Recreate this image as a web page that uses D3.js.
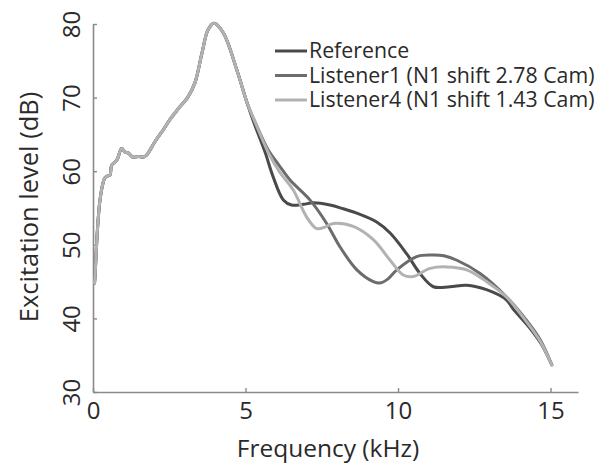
<!DOCTYPE html>
<html>
<head>
<meta charset="utf-8">
<script src="https://cdn.jsdelivr.net/npm/d3@7"></script>
<style>
  body { margin: 0; background: #fff; }
  text { font-family: "Open Sans", sans-serif; }
</style>
</head>
<body>
<svg id="chart" width="609" height="470"></svg>
<script>
// values: [frequency kHz, excitation dB]
var sharedLow = [[0.05,44.8],[0.07,46],[0.12,50.2],[0.17,53.5],[0.23,56.1],[0.33,58.4],[0.39,59.1],
  [0.5,59.4],[0.56,59.5],[0.61,60.8],[0.78,61.5],[0.94,63.1],[1.05,62.6],[1.15,62.5],[1.31,61.9],
  [1.5,62.0],[1.64,61.9],[1.76,62.2],[2.03,64.0],[2.3,65.6],[2.52,67],[2.8,68.5],[3.1,70],
  [3.34,72],[3.57,76],[3.77,79.2],[3.97,80.1],[4.27,78.8],[4.72,73.7],[5.05,69.3]]

var reference = [[5.3,66.3],[5.64,62.6],[5.9,59.3],[6.24,56.1],[6.51,55.4],[6.9,55.5],[7.22,55.7],
  [7.77,55.4],[8.2,54.9],[8.65,54.3],[9.3,53.1],[9.74,51.6],[10.28,48.8],[10.72,46.1],[11.16,44.3],
  [11.7,44.3],[12.25,44.5],[12.9,43.9],[13.56,42.5],[13.77,41.3],[14.3,38.8],[14.7,36.5],[15.04,33.7]]

var listener1 = [[5.3,66.8],[5.74,62.9],[6.1,60.8],[6.46,58.8],[7.11,56.1],[7.66,52.9],[8.1,49.7],
  [8.65,46.6],[9.19,45.0],[9.41,44.8],[9.65,45.3],[9.96,46.6],[10.61,48.4],[11.16,48.6],[11.5,48.5],
  [11.93,47.9],[12.69,46.1],[13.56,42.9],[14.2,39.8],[14.66,37.1],[15.04,33.7]]

var listener4 = [[5.3,66.8],[5.74,62.6],[6.1,60.0],[6.57,57.4],[7.0,53.8],[7.33,52.2],[7.6,52.4],
  [7.88,52.9],[8.53,52.5],[9.19,50.7],[9.74,47.9],[10.17,45.9],[10.5,45.7],[11.05,46.8],[11.6,47.0],
  [12.25,46.6],[12.9,45.0],[13.56,42.9],[14.2,39.6],[14.66,36.9],[15.04,33.7]]

var seriesNames = ['Reference', 'Listener1 (N1 shift 2.78 Cam)', 'Listener4 (N1 shift 1.43 Cam)']
var seriesColors = ['#4a4a4a', '#6c6c6c', '#b2b2b2']
var xTicks = [0, 5, 10, 15]
var yTicks = [30, 40, 50, 60, 70, 80]

var svg = d3.select('#chart')

var x = d3.scaleLinear().domain([0, 15.9]).range([93, 578])
var y = d3.scaleLinear().domain([30, 80]).range([392, 24])

var axisColor = '#8a8a8a'
var textColor = '#2a2a2a'

// x axis, ticks pointing inward
var xAxis = svg.append('g')
  .attr('transform', 'translate(0,' + y(30) + ')')
  .call(d3.axisBottom(x).tickValues(xTicks).tickSizeInner(-4).tickSizeOuter(0).tickPadding(10))
xAxis.select('.domain').attr('stroke', axisColor).attr('stroke-width', 1.6)
xAxis.selectAll('.tick line').attr('stroke', axisColor).attr('stroke-width', 1.4)
xAxis.selectAll('.tick text')
  .attr('font-size', 24).attr('fill', textColor)
  .attr('font-family', '"Open Sans", sans-serif')
  .attr('dy', '0.72em')

// y axis, labels rotated
var yAxis = svg.append('g')
  .attr('transform', 'translate(' + x(0) + ',0)')
  .call(d3.axisLeft(y).tickValues(yTicks).tickSizeInner(-4).tickSizeOuter(0))
yAxis.select('.domain').attr('stroke', axisColor).attr('stroke-width', 1.6)
yAxis.selectAll('.tick line').attr('stroke', axisColor).attr('stroke-width', 1.4)
yAxis.selectAll('.tick text').remove()
yAxis.selectAll('.tick').append('text')
  .attr('transform', 'translate(-13,0) rotate(-90)')
  .attr('text-anchor', 'middle')
  .attr('font-size', 24)
  .attr('fill', textColor)
  .attr('font-family', '"Open Sans", sans-serif')
  .text(function (d) { return d })

// axis titles
svg.append('text')
  .attr('x', 328).attr('y', 457)
  .attr('text-anchor', 'middle')
  .attr('font-size', 24.5)
  .attr('fill', textColor)
  .text('Frequency (kHz)')

svg.append('text')
  .attr('transform', 'translate(38,207) rotate(-90)')
  .attr('text-anchor', 'middle')
  .attr('font-size', 25.5)
  .attr('fill', textColor)
  .text('Excitation level (dB)')

// curves
var line = d3.line()
  .x(function (d) { return x(d[0]) })
  .y(function (d) { return y(d[1]) })
  .curve(d3.curveCatmullRom.alpha(0.5))

var series = [reference, listener1, listener4]
svg.append('g')
  .selectAll('path')
  .data(series)
  .enter()
  .append('path')
  .attr('d', function (d) { return line(sharedLow.concat(d)) })
  .attr('fill', 'none')
  .attr('stroke', function (d, i) { return seriesColors[i] })
  .attr('stroke-width', 3)
  .attr('stroke-linejoin', 'round')
  .attr('stroke-linecap', 'round')

// legend
var legend = svg.append('g').attr('transform', 'translate(275,51)')
var rows = legend.selectAll('g')
  .data(seriesNames)
  .enter()
  .append('g')
  .attr('transform', function (d, i) { return 'translate(0,' + (i * 24.5) + ')' })

rows.append('line')
  .attr('x1', 0).attr('x2', 32)
  .attr('stroke', function (d, i) { return seriesColors[i] })
  .attr('stroke-width', 3)

rows.append('text')
  .attr('x', 34)
  .attr('dy', '0.35em')
  .attr('font-size', 21.3)
  .attr('fill', textColor)
  .text(function (d) { return d })
</script>
</body>
</html>
